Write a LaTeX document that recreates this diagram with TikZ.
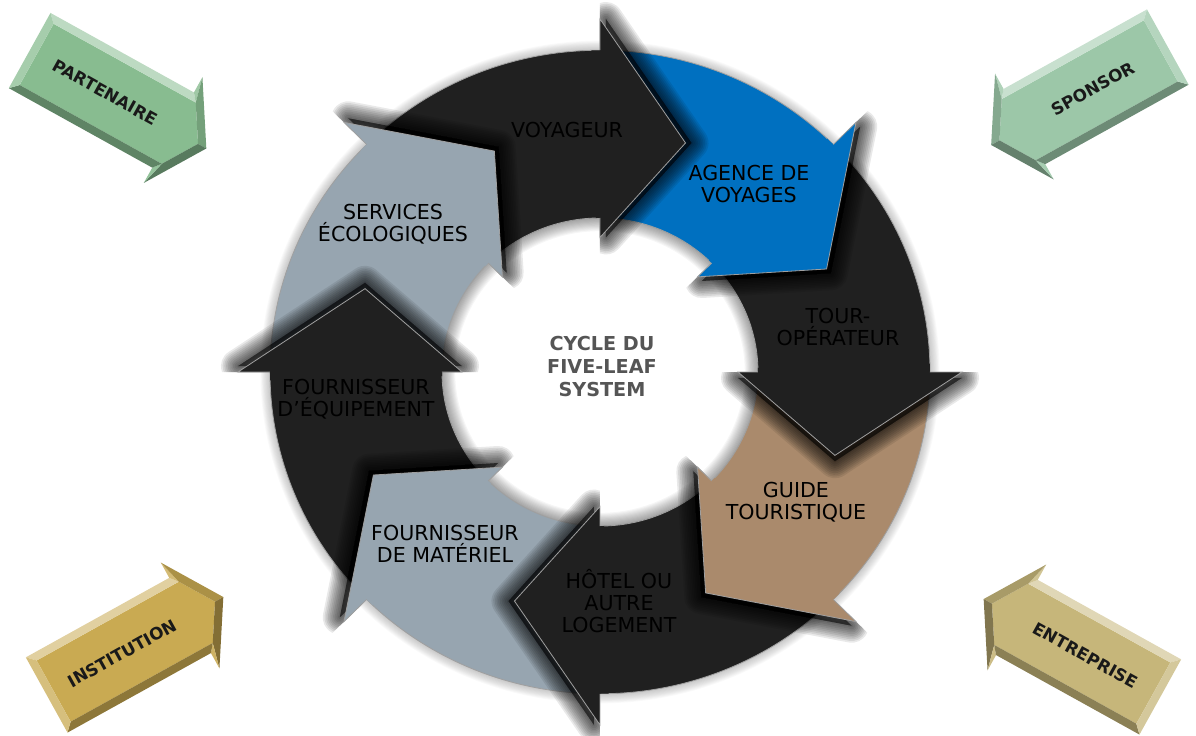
\documentclass[tikz,border=0pt]{standalone}
\usepackage{fontspec}
\setmainfont{DejaVu Sans}

\definecolor{ringdark}{RGB}{32,32,32}
\definecolor{ringblue}{RGB}{0,112,192}
\definecolor{ringbrown}{RGB}{170,138,108}
\definecolor{ringgray}{RGB}{151,165,176}
\definecolor{leafgreen}{RGB}{136,188,144}
\definecolor{leafmint}{RGB}{156,199,168}
\definecolor{leafgold}{RGB}{201,170,82}
\definecolor{leafkhaki}{RGB}{198,182,122}
\definecolor{centregray}{RGB}{85,85,85}

\tikzset{
  ringlabel/.style={align=center, text=black, font=\fontsize{10.3}{11}\selectfont},
  centrelabel/.style={align=center, text=centregray, font=\bfseries\fontsize{9.6}{11.5}\selectfont},
  leaftext/.style={text=black!90, font=\bfseries\fontsize{8.4}{10}\selectfont},
  ringline/.style={draw=gray!75, line width=0.4pt},
  shadowstep/.style={draw=black, fill=black, opacity=0.085, line width=#1, line join=round},
}

% bevelled arrow: name, centre, rotation, mirror, colour, text
\newcommand{\leafarrow}[6]{%
  \begin{scope}[shift={#2}, rotate=#3, xscale=#4]
    \fill[#5] (-93,35) -- (69.5,35) -- (91.5,0) -- (69.5,-35) -- (-93,-35) -- cycle;
    \fill[#5!55!white] (-101,43) -- (63,43) -- (69.5,35) -- (-93,35) -- cycle;
    \fill[#5!80!white] (63,43) -- (63,60.5) -- (69.5,35) -- cycle;
    \fill[#5!85!black] (63,60.5) -- (101,0) -- (91.5,0) -- (69.5,35) -- cycle;
    \fill[#5!65!black] (101,0) -- (63,-60.5) -- (69.5,-35) -- (91.5,0) -- cycle;
    \fill[#5!90!white] (63,-60.5) -- (63,-43) -- (69.5,-35) -- cycle;
    \fill[#5!70!black] (63,-43) -- (-101,-43) -- (-93,-35) -- (69.5,-35) -- cycle;
    \fill[#5!75!white] (-101,-43) -- (-101,43) -- (-93,35) -- (-93,-35) -- cycle;
    \node[leaftext, rotate=#3] (#1) at (-15,0) {#6};
  \end{scope}}

\begin{document}
\begin{tikzpicture}[x=0.5pt, y=0.5pt]
	\useasboundingbox (-600,-363) rectangle (596,372);
	
	\begin{scope}[yscale=0.975]
	% soft glow along both edges of the ring
	\foreach \i in {1,...,12}{
		\draw[black, opacity=0.02, line width=\i*0.8pt] (0,0) circle[radius=330];
		\draw[black, opacity=0.035, line width=\i*1.1pt] (0,0) circle[radius=158];
	}
	
	% bodies of the eight arrows
	\foreach \s/\col [evaluate=\s as \a using \s-2, evaluate=\s as \e using \s-47] in {135/ringdark, 90/ringblue, 45/ringdark, 0/ringbrown, -45/ringdark, -90/ringgray, -135/ringdark, -180/ringgray}
		\fill[\col] (\a:330) arc[start angle=\a, end angle=\e, radius=330] -- (\e:158) arc[start angle=\e, end angle=\a, radius=158] -- cycle;
	
	\draw[ringline] (0,0) circle[radius=330];
	\draw[ringline] (0,0) circle[radius=158];
	
	% arrow heads, each casting a shadow on the next arrow
	\foreach \b/\col [evaluate=\b as \t using \b-20, evaluate=\b as \c using \b+1.5, evaluate=\b as \sx using 6*cos(\b-90), evaluate=\b as \sy using 6*sin(\b-90)] in {90/ringdark, 45/ringblue, 0/ringdark, -45/ringbrown, -90/ringdark, -135/ringgray, -180/ringdark, 135/ringgray}{
		\begin{scope}
			\clip (0,0) -- (\b:700) -- (\b-45:700) -- (\b-90:700) -- cycle;
			\begin{scope}[shift={(\sx,\sy)}]
				\foreach \w in {1,...,10}
					\path[shadowstep=\w*1.7pt] (\b:362) -- (\t:250) -- (\b:138) -- cycle;
			\end{scope}
		\end{scope}
		\fill[\col] (\b:362) -- (\t:250) -- (\b:138) -- (\b:158) -- (\c:158) -- (\c:330) -- (\b:330) -- cycle;
		\draw[ringline] (\b:330) -- (\b:362) -- (\t:250) -- (\b:138) -- (\b:158);
	}
	\end{scope}
	
	\node[ringlabel] (voyageur) at (-33,242.5) {VOYAGEUR};
	\node[ringlabel] (agence) at (149,188) {AGENCE DE\\VOYAGES};
	\node[ringlabel] (tour) at (238,45) {TOUR-\\OPÉRATEUR};
	\node[ringlabel] (guide) at (196,-130) {GUIDE\\TOURISTIQUE};
	\node[ringlabel] (hotel) at (19,-229.5) {HÔTEL OU\\AUTRE\\LOGEMENT};
	\node[ringlabel] (materiel) at (-155,-172) {FOURNISSEUR\\DE MATÉRIEL};
	\node[ringlabel] (equipement) at (-244,-27.5) {FOURNISSEUR\\D'ÉQUIPEMENT};
	\node[ringlabel] (services) at (-207,148) {SERVICES\\ÉCOLOGIQUES};
	\node[centrelabel] (cycle) at (2,5) {CYCLE DU\\FIVE-LEAF\\SYSTEM};
	
	\leafarrow{partenaire}{(-482,272.5)}{-29}{1}{leafgreen}{PARTENAIRE}
	\leafarrow{sponsor}{(479.5,276)}{29}{-1}{leafmint}{SPONSOR}
	\leafarrow{institution}{(-465,-274)}{29}{1}{leafgold}{INSTITUTION}
	\leafarrow{entreprise}{(472,-276)}{-29}{-1}{leafkhaki}{ENTREPRISE}
	
\end{tikzpicture}
\end{document}
